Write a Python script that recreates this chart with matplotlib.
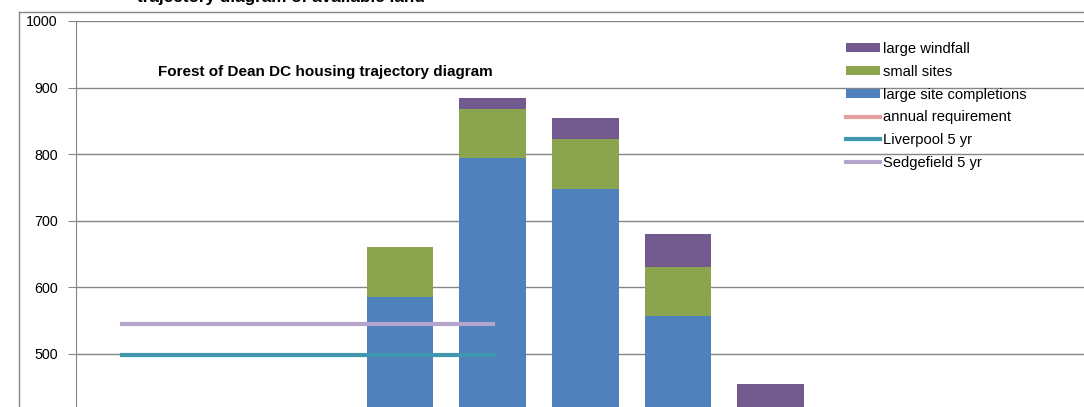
import numpy as np
import matplotlib.pyplot as plt
from matplotlib.lines import Line2D

plt.rcParams['font.family'] = ['Liberation Sans', 'DejaVu Sans']

# categories (the picture is cropped; labels are cut off below)
cats = ['2003/04', '2004/05', '2005/06', '2006/07', '2007/08', '2008/09',
        '2009/10', '2010/11', '2011/12', '2012/13', '2013/14', '2014/15']
large_sites = [0, 0, 0, 586, 794, 748, 557, 310, 0, 0, 0, 0]
small_sites = [0, 0, 0, 74, 74, 75, 74, 70, 0, 0, 0, 0]
windfall = [0, 0, 0, 0, 16, 31, 49, 75, 0, 0, 0, 0]
annual_req = [310] * 12
liverpool = [498, 498, 498, 498, 498]
sedgefield = [545, 545, 545, 545, 545]
yticks = [500, 600, 700, 800, 900, 1000]

c_blue = '#4F81BD'
c_green = '#8AA54D'
c_purple = '#725A8F'
c_req = '#E5A09E'
c_liv = '#3F98AE'
c_sed = '#B4A5CC'

W, H = 1084, 407
fig = plt.figure(figsize=(W / 100, H / 100), dpi=100)

# plot area runs off the right and bottom of the crop
left_px, top_px = 76, 21
step = 92.6
ppu = 0.6655
ax = fig.add_axes([left_px / W, (H - top_px - 1000 * ppu) / H,
                   len(cats) * step / W, 1000 * ppu / H])

x = np.arange(len(cats))
bw = 0.72
ax.bar(x, large_sites, bw, color=c_blue, label='large site completions', zorder=2)
ax.bar(x, small_sites, bw, bottom=large_sites, color=c_green, label='small sites', zorder=2)
bot2 = np.array(large_sites) + np.array(small_sites)
ax.bar(x, windfall, bw, bottom=bot2, color=c_purple, label='large windfall', zorder=2)

ax.plot(x, annual_req, color=c_req, lw=3, label='annual requirement', zorder=3)
ax.plot(x[:len(liverpool)], liverpool, color=c_liv, lw=3, label='Liverpool 5 yr', zorder=3)
ax.plot(x[:len(sedgefield)], sedgefield, color=c_sed, lw=3, label='Sedgefield 5 yr', zorder=3)

ax.set_xlim(-0.5, len(cats) - 0.5)
ax.set_ylim(0, 1000)
ax.set_yticks(yticks)
ax.yaxis.grid(True, color='#868686', lw=1)
ax.set_axisbelow(True)
ax.set_xticks([])
for s in ['top', 'right', 'bottom']:
    ax.spines[s].set_visible(False)
ax.spines['left'].set_color('#868686')
ax.tick_params(axis='y', length=6, color='#868686', labelsize=10.3, pad=7)

# outer chart border (cropped)
fig.add_artist(Line2D([19 / W, 19 / W], [0, (H - 12) / H], color='#868686', lw=1))
fig.add_artist(Line2D([19 / W, 1], [(H - 12) / H, (H - 12) / H], color='#868686', lw=1))

fig.text(281 / W, (H - 2) / H, 'trajectory diagram of available land',
         fontsize=12.3, fontweight='bold', ha='center', va='baseline')
fig.text(325 / W, (H - 72) / H, 'Forest of Dean DC housing trajectory diagram',
         fontsize=11, fontweight='bold', ha='center', va='center')

h, l = ax.get_legend_handles_labels()
order = ['large windfall', 'small sites', 'large site completions',
         'annual requirement', 'Liverpool 5 yr', 'Sedgefield 5 yr']
hd = dict(zip(l, h))
fig.legend([hd[k] for k in order], order, loc='upper left',
           bbox_to_anchor=(840 / W, (H - 36) / H), frameon=False, fontsize=10.6,
           handlelength=2.3, handletextpad=0.2, labelspacing=0.6, handleheight=0.55,
           borderaxespad=0)

fig.savefig('out.png', dpi=100)
